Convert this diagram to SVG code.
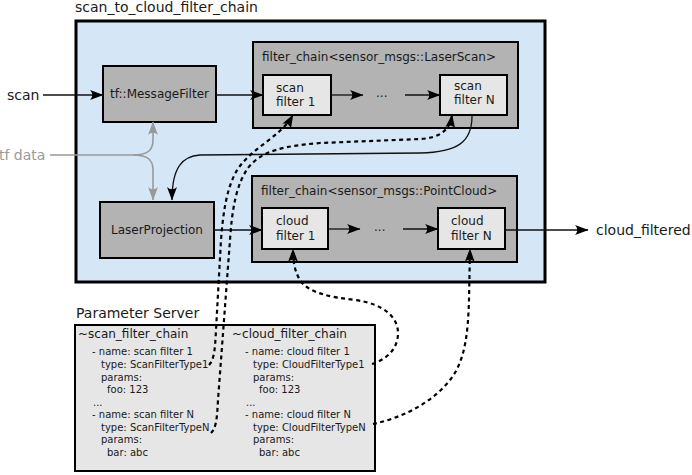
<svg xmlns="http://www.w3.org/2000/svg" width="692" height="475" viewBox="0 0 692 475">
<defs>
<style>
text{font-family:"DejaVu Sans","Liberation Sans",sans-serif;fill:#1a1a1a}
.big{font-size:14px}
.mid{font-size:12px}
.sm{font-size:10px}
.gray{fill:#999}
.main{fill:#d5e6f7;stroke:#000;stroke-width:3}
.chain{fill:#b3b3b3;stroke:#000;stroke-width:2}
.node{fill:#b3b3b3;stroke:#000;stroke-width:2}
.inner{fill:#e6e6e6;stroke:#000;stroke-width:2}
.param{fill:#e6e6e6;stroke:#000;stroke-width:2}
.solid{fill:none;stroke:#111;stroke-width:1.3;marker-end:url(#arr)}
.grayl{fill:none;stroke:#999;stroke-width:1.6;marker-end:url(#garr)}
.dash{fill:none;stroke:#000;stroke-width:2.2;stroke-dasharray:4 3.5}
.dasha{marker-end:url(#arr)}
.ctr{text-anchor:middle}
</style>
<marker id="arr" markerUnits="userSpaceOnUse" viewBox="-14 -6 15 12" refX="0" refY="0" markerWidth="15" markerHeight="12" orient="auto">
<path d="M0.5,0 L-13,-5 C-10,-1.8 -10,1.8 -13,5 Z" fill="#000"/>
</marker>
<marker id="garr" markerUnits="userSpaceOnUse" viewBox="-14 -6 15 12" refX="0" refY="0" markerWidth="15" markerHeight="12" orient="auto">
<path d="M0.5,0 L-13,-5 C-10,-1.8 -10,1.8 -13,5 Z" fill="#999"/>
</marker>
</defs>

<g id="scan_to_cloud_filter_chain">
<rect class="main" x="76" y="21" width="469" height="261"/>
<text class="big" x="75" y="12">scan_to_cloud_filter_chain</text>
</g>

<g id="scan_input"><text class="big" x="7" y="100">scan</text></g>
<g id="tf_data"><text class="big gray" x="-1" y="160">tf data</text></g>
<g id="cloud_filtered"><text class="big" x="596" y="235">cloud_filtered</text></g>

<g id="message_filter">
<rect class="node" x="103" y="66" width="113" height="56"/>
<text class="mid ctr" x="159.5" y="98">tf::MessageFilter</text>
</g>

<g id="laser_projection">
<rect class="node" x="100" y="202" width="114" height="56"/>
<text class="mid ctr" x="157" y="234">LaserProjection</text>
</g>

<g id="scan_chain">
<rect class="chain" x="253" y="42" width="265" height="86"/>
<text class="mid" x="262" y="61">filter_chain&lt;sensor_msgs::LaserScan&gt;</text>
</g>
<g id="scan_filter_1">
<rect class="inner" x="263" y="75" width="68" height="40"/>
<text class="mid" x="276" y="92">scan</text>
<text class="mid" x="276" y="106">filter 1</text>
</g>
<g id="scan_filter_n">
<rect class="inner" x="440" y="75" width="67" height="40"/>
<text class="mid" x="454" y="90">scan</text>
<text class="mid" x="454" y="104">filter N</text>
</g>
<g id="scan_dots"><text class="mid" x="376" y="97">...</text></g>

<g id="cloud_chain">
<rect class="chain" x="252" y="176" width="265" height="86"/>
<text class="mid" x="261" y="195">filter_chain&lt;sensor_msgs::PointCloud&gt;</text>
</g>
<g id="cloud_filter_1">
<rect class="inner" x="262" y="208" width="66" height="41"/>
<text class="mid" x="276" y="225">cloud</text>
<text class="mid" x="276" y="240">filter 1</text>
</g>
<g id="cloud_filter_n">
<rect class="inner" x="438" y="208" width="67" height="41"/>
<text class="mid" x="451" y="225">cloud</text>
<text class="mid" x="451" y="240">filter N</text>
</g>
<g id="cloud_dots"><text class="mid" x="374" y="231">...</text></g>

<g id="parameter_server">
<text class="big" x="76" y="318">Parameter Server</text>
<rect class="param" x="75" y="325" width="300" height="146"/>
<text class="mid" x="78" y="338">~scan_filter_chain</text>
<text class="sm" x="92" y="355">- name: scan filter 1</text>
<text class="sm" x="101" y="368">type: ScanFilterType1</text>
<text class="sm" x="101" y="381">params:</text>
<text class="sm" x="107" y="393">foo: 123</text>
<text class="sm" x="93" y="406">...</text>
<text class="sm" x="92" y="418">- name: scan filter N</text>
<text class="sm" x="101" y="431">type: ScanFilterTypeN</text>
<text class="sm" x="101" y="443">params:</text>
<text class="sm" x="107" y="456">bar: abc</text>
<text class="mid" x="232" y="338">~cloud_filter_chain</text>
<text class="sm" x="245" y="355">- name: cloud filter 1</text>
<text class="sm" x="253" y="368">type: CloudFilterType1</text>
<text class="sm" x="253" y="381">params:</text>
<text class="sm" x="259" y="393">foo: 123</text>
<text class="sm" x="246" y="406">...</text>
<text class="sm" x="245" y="418">- name: cloud filter N</text>
<text class="sm" x="253" y="431">type: CloudFilterTypeN</text>
<text class="sm" x="253" y="443">params:</text>
<text class="sm" x="259" y="456">bar: abc</text>
</g>

<g id="connectors">
<path class="solid" d="M43,95 L103,95"/>
<path class="solid" d="M216,95 L263,95"/>
<path class="solid" d="M331,95 L363,95"/>
<path class="solid" d="M405,95 L440,95"/>
<path class="solid" d="M214,230 L262,230"/>
<path class="solid" d="M328,229 L360,229"/>
<path class="solid" d="M403,229 L438,229"/>
<path class="solid" d="M505,230 L588,230"/>
<path class="solid" d="M472,116 C472,142 458,152 420,153 L200,155 C182,156 172,168 172,200"/>
<path class="grayl" d="M50,155 L133,155 C148,155 153,150 153,140 L153,122"/>
<path class="grayl" d="M133,155 C148,155 153,160 153,170 L153,200"/>
<path class="dash dasha" d="M209,365 C214,360 215,350 216,330 L221,240 C223,215 226,190 236,172 C250,148 280,138 293,115"/>
<path class="dash dasha" d="M211,433 C216,428 217,420 218,400 L230,240 C232,210 236,185 248,168 C262,150 285,146 320,143 L420,139 C440,138 450,130 452,115"/>
<path class="dash dasha" d="M372,364 C385,360 398,350 398,333 C398,318 385,304 355,300 C330,297 308,293 300,280 C295,272 293,262 293,249"/>
<path class="dash dasha" d="M373,424 C400,418 430,405 450,380 C466,360 468,330 469,300 L470,249"/>
</g>
</svg>
